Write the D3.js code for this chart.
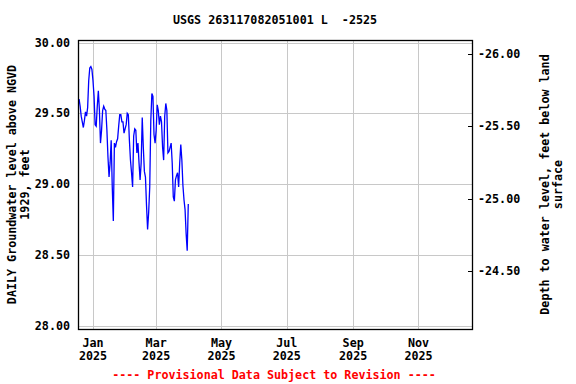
<!DOCTYPE html>
<html>
<head>
	<title>USGS 263117082051001</title>
	<script src="https://cdn.jsdelivr.net/npm/d3@7/dist/d3.min.js"></script>
	<style>
	body { margin: 0; background: #fff; }
	svg text {
		font-family: "DejaVu Sans Mono", monospace;
		font-weight: bold;
		font-size: 11.7px;
		fill: #000;
	}
	</style>
</head>
<body>
	<svg id="chart"></svg>
<script>
	// daily groundwater levels, feet above NGVD 1929, starting at startDay
	var startDay = "2024-12-19";
	var levels = [
		29.60, 29.55, 29.48, 29.44, 29.40, 29.45, 29.51, 29.48, 29.54, 29.73,
		29.82, 29.83, 29.81, 29.73, 29.62, 29.42, 29.41, 29.55, 29.66, 29.52,
		29.29, 29.38, 29.52, 29.55, 29.53, 29.52, 29.38, 29.19, 29.05, 29.15,
		29.31, 28.98, 28.74, 29.29, 29.26, 29.30, 29.32, 29.41, 29.49, 29.49,
		29.44, 29.44, 29.36, 29.39, 29.42, 29.50, 29.49, 29.31, 29.17, 29.08,
		28.98, 29.34, 29.39, 29.38, 29.22, 29.29, 29.15, 29.03, 29.15, 29.47,
		29.26, 29.09, 29.05, 28.85, 28.68, 28.80, 28.98, 29.45, 29.64, 29.62,
		29.35, 29.29, 29.38, 29.56, 29.52, 29.42, 29.48, 29.44, 29.26, 29.17,
		29.48, 29.57, 29.52, 29.22, 29.23, 29.26, 29.29, 29.15, 28.91, 28.88,
		29.03, 29.06, 29.08, 28.98, 29.15, 29.28, 29.17, 28.99, 28.89, 28.82,
		28.65, 28.53, 28.86
	];

	var xTicks = ["2025-01-01", "2025-03-01", "2025-05-01", "2025-07-01", "2025-09-01", "2025-11-01"];
	var monthNames = ["Jan", "Mar", "May", "Jul", "Sep", "Nov"];
	var leftTicks = [28.0, 28.5, 29.0, 29.5, 30.0];
	var rightTicks = [-26.0, -25.5, -25.0, -24.5];

	var width = 576, height = 384;
	var margin = {top: 40, right: 104, bottom: 55, left: 78};
	var w = width - margin.left - margin.right,
		h = height - margin.top - margin.bottom;

	var svg = d3.select("#chart")
		.attr("width", width)
		.attr("height", height);

	var parse = d3.utcParse("%Y-%m-%d");
	var start = parse(startDay);
	var data = levels.map(function(v, i) {
		return {date: d3.utcDay.offset(start, i), value: v};
	});

	var x = d3.scaleUtc()
		.domain([parse("2024-12-18"), parse("2025-12-21")])
		.range([0, w]);
	var y = d3.scaleLinear().domain([27.977, 30.018]).range([h, 0]);
	var y2 = d3.scaleLinear().domain([-24.096, -26.099]).range([h, 0]);

	var chart = svg.append("g")
		.attr("transform", "translate(" + margin.left + "," + margin.top + ")");

	// grid
	chart.append("g").selectAll("line.hgrid")
		.data(leftTicks).enter()
		.append("line")
		.attr("x1", 0).attr("x2", w)
		.attr("y1", function(d) { return Math.round(y(d)) + 0.5; })
		.attr("y2", function(d) { return Math.round(y(d)) + 0.5; })
		.attr("stroke", "#c8c8c8");

	chart.append("g").selectAll("line.vgrid")
		.data(xTicks).enter()
		.append("line")
		.attr("y1", 0).attr("y2", h)
		.attr("x1", function(d) { return Math.round(x(parse(d))) + 0.5; })
		.attr("x2", function(d) { return Math.round(x(parse(d))) + 0.5; })
		.attr("stroke", "#c8c8c8");

	// data line
	var line = d3.line()
		.x(function(d) { return x(d.date); })
		.y(function(d) { return y(d.value); });

	chart.append("path")
		.datum(data)
		.attr("fill", "none")
		.attr("stroke", "#0000ff")
		.attr("stroke-width", 1.3)
		.attr("d", line);

	// frame
	chart.append("rect")
		.attr("x", 0.5).attr("y", 0.5)
		.attr("width", w).attr("height", h)
		.attr("fill", "none")
		.attr("stroke", "#000")
		.attr("stroke-width", 1.3);

	// left axis labels
	chart.append("g").selectAll("text")
		.data(leftTicks).enter()
		.append("text")
		.attr("x", -8)
		.attr("y", function(d) { return y(d) + 4; })
		.attr("text-anchor", "end")
		.text(function(d) { return d.toFixed(2); });

	// right axis ticks + labels
	var right = chart.append("g").attr("transform", "translate(" + w + ",0)");
	right.selectAll("line")
		.data(rightTicks).enter()
		.append("line")
		.attr("x1", -4).attr("x2", 0)
		.attr("y1", function(d) { return Math.round(y2(d)) + 0.5; })
		.attr("y2", function(d) { return Math.round(y2(d)) + 0.5; })
		.attr("stroke", "#000");
	right.selectAll("text")
		.data(rightTicks).enter()
		.append("text")
		.attr("x", 6)
		.attr("y", function(d) { return y2(d) + 4; })
		.text(function(d) { return d.toFixed(2); });

	// bottom labels
	var xl = chart.append("g").selectAll("text")
		.data(xTicks).enter()
		.append("text")
		.attr("text-anchor", "middle")
		.attr("transform", function(d) { return "translate(" + x(parse(d)) + "," + (h + 18) + ")"; });
	xl.append("tspan").attr("x", 0).attr("y", 0)
		.text(function(d, i) { return monthNames[i]; });
	xl.append("tspan").attr("x", 0).attr("y", 13)
		.text(function(d) { return d.slice(0, 4); });

	// titles
	svg.append("text")
		.attr("x", 275).attr("y", 24)
		.attr("text-anchor", "middle")
		.text("USGS 263117082051001 L  -2525")
		.style("white-space", "pre");

	var yl = svg.append("text")
		.attr("text-anchor", "middle")
		.attr("transform", "translate(16," + (margin.top + h / 2) + ") rotate(-90)");
	yl.append("tspan").attr("x", 0).attr("y", 0).text("DAILY Groundwater level above NGVD");
	yl.append("tspan").attr("x", 0).attr("y", 13).text("1929, feet");

	var yr = svg.append("text")
		.attr("text-anchor", "middle")
		.attr("transform", "translate(549," + (margin.top + h / 2) + ") rotate(-90)");
	yr.append("tspan").attr("x", 0).attr("y", 0).text("Depth to water level, feet below land");
	yr.append("tspan").attr("x", 0).attr("y", 13).text("surface");

	svg.append("text")
		.attr("x", 274).attr("y", 379)
		.attr("text-anchor", "middle")
		.style("fill", "#ff0000")
		.text("---- Provisional Data Subject to Revision ----");
</script>
</body>
</html>
